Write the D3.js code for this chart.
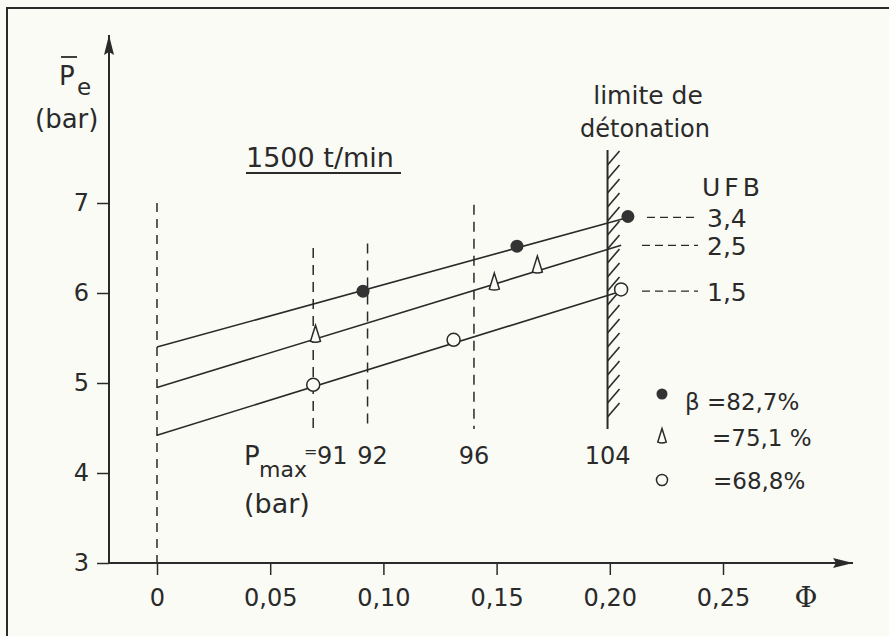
<!DOCTYPE html>
<html>
<head>
<meta charset="utf-8">
<script src="https://cdn.jsdelivr.net/npm/d3@7"></script>
<style>
  body { margin: 0; background: #fbfbf6; }
  svg { display: block; }
  text { font-family: "DejaVu Sans", sans-serif; fill: #2a2a2a; }
</style>
</head>
<body>
<div id="chart"></div>
<script>
// Φ values and mean pressure Pe (bar)
const phiTicks = [0, 0.05, 0.10, 0.15, 0.20, 0.25];
const peTicks = [3, 4, 5, 6, 7];

const seriesNames = ['β =82,7%', '=75,1 %', '=68,8%'];
const seriesShapes = ['dot', 'triangle', 'circle'];
const ufbLabels = ['3,4', '2,5', '1,5'];

// fitted lines: pe at phi = 0, and end point
const lineStart = [5.40, 4.95, 4.42];
const lineEndPhi = [0.208, 0.205, 0.205];
const lineEndPe = [6.84, 6.53, 6.02];

const pointsDot = [[0.091, 6.02], [0.159, 6.52], [0.208, 6.85]];
const pointsTriangle = [[0.070, 5.53], [0.149, 6.11], [0.168, 6.30]];
const pointsCircle = [[0.069, 4.98], [0.131, 5.48], [0.205, 6.04]];

// Pmax dashed markers: phi, top of the dash, label
const pmaxPhi = [0.069, 0.093, 0.140, 0.199];
const pmaxTop = [6.5, 6.55, 6.98, 7.59];
const pmaxLabels = ['91', '92', '96', '104'];

const width = 889, height = 636;
const svg = d3.select('#chart').append('svg')
    .attr('width', width)
    .attr('height', height);

const ink = '#2a2a2a';

// frame
svg.append('rect')
    .attr('x', 7).attr('y', 8)
    .attr('width', 900).attr('height', 700)
    .attr('fill', 'none')
    .attr('stroke', ink)
    .attr('stroke-width', 2);

const x = d3.scaleLinear().domain([0, 0.25]).range([157, 723]);
const y = d3.scaleLinear().domain([3, 7]).range([563, 203]);
const comma = d3.formatLocale({ decimal: ',', thousands: '.', grouping: [3], currency: ['', ''] });

// arrow head
svg.append('defs').append('marker')
    .attr('id', 'arrow')
    .attr('viewBox', '0 0 20 10')
    .attr('refX', 20).attr('refY', 5)
    .attr('markerWidth', 20).attr('markerHeight', 10)
    .attr('markerUnits', 'userSpaceOnUse')
    .attr('orient', 'auto')
    .append('path')
    .attr('d', 'M0,0 L20,5 L0,10 L3,5 Z')
    .attr('fill', ink);

// axis lines
svg.append('line')
    .attr('x1', 109).attr('y1', y(3))
    .attr('x2', 853).attr('y2', y(3))
    .attr('stroke', ink).attr('stroke-width', 2)
    .attr('marker-end', 'url(#arrow)');
svg.append('line')
    .attr('x1', 109).attr('y1', y(3) + 1)
    .attr('x2', 109).attr('y2', 35)
    .attr('stroke', ink).attr('stroke-width', 2)
    .attr('marker-end', 'url(#arrow)');

// y axis ticks
const yAxis = svg.append('g')
    .attr('transform', 'translate(109,0)')
    .call(d3.axisLeft(y).tickValues(peTicks).tickSize(12).tickPadding(8).tickFormat(d3.format('d')));
yAxis.select('.domain').remove();
yAxis.selectAll('line').attr('stroke', ink).attr('stroke-width', 1.5);
yAxis.selectAll('text').style('font-size', '24px').attr('fill', ink);

// x axis ticks
const xAxis = svg.append('g')
    .attr('transform', `translate(0,${y(3)})`)
    .call(d3.axisBottom(x).tickValues(phiTicks).tickSize(12).tickPadding(14)
        .tickFormat(d => d === 0 ? '0' : comma.format('.2f')(d)));
xAxis.select('.domain').remove();
xAxis.selectAll('line').attr('stroke', ink).attr('stroke-width', 1.5);
xAxis.selectAll('text').style('font-size', '24px').attr('fill', ink);

// dashed vertical at phi = 0
svg.append('line')
    .attr('x1', x(0)).attr('x2', x(0))
    .attr('y1', y(7)).attr('y2', y(3))
    .attr('stroke', ink).attr('stroke-width', 1.5)
    .attr('stroke-dasharray', '9,7');

// dashed Pmax verticals (the last one is the hatched detonation limit)
pmaxPhi.forEach((p, i) => {
    if (i === pmaxPhi.length - 1) return;
    svg.append('line')
        .attr('x1', x(p)).attr('x2', x(p))
        .attr('y1', y(pmaxTop[i])).attr('y2', y(4.49))
        .attr('stroke', ink).attr('stroke-width', 1.5)
        .attr('stroke-dasharray', '10,7');
});

// detonation limit with hatches
const limPhi = pmaxPhi[pmaxPhi.length - 1];
const limTop = pmaxTop[pmaxTop.length - 1];
svg.append('line')
    .attr('x1', x(limPhi)).attr('x2', x(limPhi))
    .attr('y1', y(limTop)).attr('y2', y(4.49))
    .attr('stroke', ink).attr('stroke-width', 2);
d3.range(y(limTop) + 15, y(4.49) - 10, 14).forEach(yy => {
    svg.append('line')
        .attr('x1', x(limPhi)).attr('y1', yy)
        .attr('x2', x(limPhi) + 12).attr('y2', yy - 14)
        .attr('stroke', ink).attr('stroke-width', 1.6);
});

// fitted lines
lineStart.forEach((p0, i) => {
    svg.append('line')
        .attr('x1', x(0)).attr('y1', y(p0))
        .attr('x2', x(lineEndPhi[i])).attr('y2', y(lineEndPe[i]))
        .attr('stroke', ink).attr('stroke-width', 1.6);
});

// markers
function drawMarker(g, shape, cx, cy, s) {
    s = s || 1;
    if (shape === 'dot') {
        g.append('circle').attr('cx', cx).attr('cy', cy).attr('r', 6.5 * s).attr('fill', '#333');
    } else if (shape === 'circle') {
        g.append('circle').attr('cx', cx).attr('cy', cy).attr('r', 6.5 * s)
            .attr('fill', '#fbfbf6').attr('stroke', ink).attr('stroke-width', 1.5);
    } else {
        g.append('path')
            .attr('d', `M${cx},${cy - 10 * s} L${cx + 5 * s},${cy + 6 * s} Q${cx},${cy + 8 * s} ${cx - 5 * s},${cy + 6 * s} Z`)
            .attr('fill', '#fbfbf6').attr('stroke', ink).attr('stroke-width', 1.5);
    }
}
const pointSets = [pointsDot, pointsTriangle, pointsCircle];
pointSets.forEach((pts, i) => {
    pts.forEach(d => drawMarker(svg, seriesShapes[i], x(d[0]), y(d[1])));
});

// UFB dashed leaders and labels
const ufbStartX = [647, 642, 642];
lineEndPe.forEach((pe, i) => {
    svg.append('line')
        .attr('x1', ufbStartX[i]).attr('x2', 698)
        .attr('y1', y(pe)).attr('y2', y(pe))
        .attr('stroke', ink).attr('stroke-width', 1.3)
        .attr('stroke-dasharray', '8,5');
    svg.append('text')
        .attr('x', 707).attr('y', y(pe) + 10)
        .style('font-size', '25px')
        .text(ufbLabels[i]);
});
svg.append('text').attr('x', 702).attr('y', 196)
    .style('font-size', '25px').style('letter-spacing', '4px').text('UFB');

// Pmax labels
const pmaxLabelShift = [19, 5, 0, 0];
pmaxPhi.forEach((p, i) => {
    svg.append('text')
        .attr('x', x(p) + pmaxLabelShift[i]).attr('y', 464)
        .attr('text-anchor', 'middle')
        .style('font-size', '24px')
        .text(pmaxLabels[i]);
});
svg.append('text').attr('x', 244).attr('y', 465).style('font-size', '26px').text('P');
svg.append('text').attr('x', 259).attr('y', 477).style('font-size', '22px').text('max');
svg.append('text').attr('x', 304).attr('y', 457).style('font-size', '16px').text('=');
svg.append('text').attr('x', 244).attr('y', 513).style('font-size', '27px').text('(bar)');

// y axis title
svg.append('text').attr('x', 59).attr('y', 85).style('font-size', '26px').text('P');
svg.append('line').attr('x1', 61).attr('x2', 77).attr('y1', 57).attr('y2', 57)
    .attr('stroke', ink).attr('stroke-width', 1.8);
svg.append('text').attr('x', 77).attr('y', 95).style('font-size', '23px').text('e');
svg.append('text').attr('x', 35).attr('y', 128).style('font-size', '26px').text('(bar)');

// x axis title
svg.append('text').attr('x', 806).attr('y', 607).attr('text-anchor', 'middle')
    .style('font-family', '"DejaVu Serif", serif')
    .style('font-size', '28px').text('Φ');

// speed
svg.append('text').attr('x', 246).attr('y', 167).style('font-size', '27px').text('1500 t/min');
svg.append('line').attr('x1', 246).attr('x2', 401).attr('y1', 173).attr('y2', 173)
    .attr('stroke', ink).attr('stroke-width', 1.8);

// detonation limit label
svg.append('text').attr('x', 648).attr('y', 104).attr('text-anchor', 'middle')
    .style('font-size', '25px').text('limite de');
svg.append('text').attr('x', 645).attr('y', 137).attr('text-anchor', 'middle')
    .style('font-size', '24px').text('détonation');

// legend
const legendY = [394, 437, 480];
const legendTextX = [685, 712, 713];
const legendBase = [410, 446, 489];
seriesNames.forEach((name, i) => {
    drawMarker(svg, seriesShapes[i], 662, legendY[i], 0.85);
    svg.append('text').attr('x', legendTextX[i]).attr('y', legendBase[i])
        .style('font-size', '23px').text(name);
});
</script>
</body>
</html>
